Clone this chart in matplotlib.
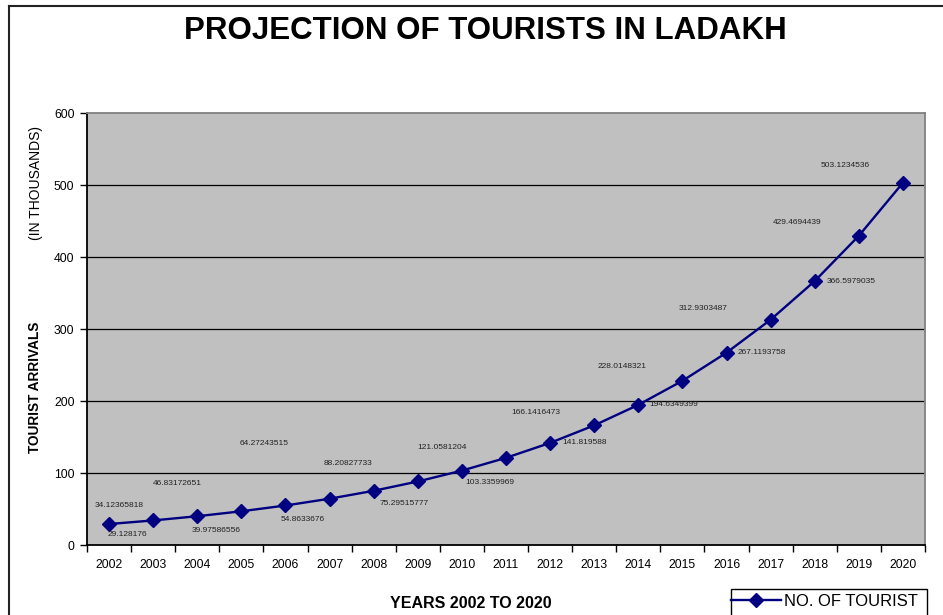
import numpy as np
import matplotlib.pyplot as plt
from matplotlib.lines import Line2D
from matplotlib.patches import Rectangle

plt.rcParams['font.family'] = ['Liberation Sans', 'DejaVu Sans']

# Projected tourist arrivals (thousands)
years = ['2002', '2003', '2004', '2005', '2006', '2007', '2008', '2009', '2010', '2011',
         '2012', '2013', '2014', '2015', '2016', '2017', '2018', '2019', '2020']
tourists = [29.128176, 34.12365818, 39.97586556, 46.83172651, 54.8633676, 64.27243515,
            75.29515777, 88.20827733, 103.3359969, 121.0581204, 141.819588, 166.1416473,
            194.6349399, 228.0148321, 267.1193758, 312.9303487, 366.5979035, 429.4694439,
            503.1234536]
yticks = [0, 100, 200, 300, 400, 500, 600]

# label offsets in pixels (dx, dy) relative to each point
label_offsets = [(18, -10), (-34, 15), (19, -14), (-64, 28), (17, -14), (-65, 55),
                 (30, -13), (-70, 18), (28, -12), (-64, 10), (34, 0), (-58, 13),
                 (35, 0), (-60, 14), (35, 0), (-68, 11), (36, 0), (-62, 13), (-58, 17)]

W, H = 943, 615
fig = plt.figure(figsize=(W / 100, H / 100), dpi=100)
ax = fig.add_axes([87 / W, 1 - 545 / H, (925 - 87) / W, (545 - 113) / H])
ax.set_facecolor('#C0C0C0')

x = np.arange(len(years))
ax.plot(x, tourists, color='#000080', lw=1.7, marker='D', ms=7.5,
        markerfacecolor='#000080', markeredgecolor='#000080', label='NO. OF TOURIST', zorder=3)

for xi, v, (dx, dy) in zip(x, tourists, label_offsets):
    ax.annotate(str(v), (xi, v), xytext=(dx, dy), textcoords='offset pixels',
                ha='center', va='center', fontsize=6, color='#222222')

ax.set_xlim(-0.5, len(years) - 0.5)
ax.set_ylim(0, 600)
ax.set_yticks(yticks)
ax.set_yticklabels([str(t) for t in yticks], fontsize=8.7)
ax.set_xticks(x)
ax.set_xticklabels(years, fontsize=8.7)
ax.set_xticks(np.arange(-0.5, len(years)), minor=True)
ax.tick_params(axis='x', which='major', length=0, pad=10)
ax.tick_params(axis='x', which='minor', length=5, width=1, direction='out')
ax.tick_params(axis='y', length=5, width=1, direction='out', pad=4)

for g in yticks[1:-1]:
    ax.axhline(g, color='black', lw=0.9, zorder=1)

ax.spines['left'].set_color('black')
ax.spines['bottom'].set_color('black')
ax.spines['top'].set_color('#808080')
ax.spines['right'].set_color('#808080')
for s in ax.spines.values():
    s.set_linewidth(1.3)

fig.text(485 / W, 1 - 31 / H, 'PROJECTION OF TOURISTS IN LADAKH', ha='center', va='center',
         fontsize=22.5, fontweight='bold')
fig.text(35 / W, 1 - 387 / H, 'TOURIST ARRIVALS', rotation=90, ha='center', va='center',
         fontsize=9.8, fontweight='bold')
fig.text(36 / W, 1 - 183 / H, '(IN THOUSANDS)', rotation=90, ha='center', va='center',
         fontsize=10)
fig.text(471 / W, 1 - 603 / H, 'YEARS 2002 TO 2020', ha='center', va='center',
         fontsize=11.5, fontweight='bold')

# legend without frame; the box runs past the bottom edge
leg = fig.legend(loc='upper left', bbox_to_anchor=(731 / W, 1 - 594 / H), fontsize=12,
                 frameon=False, borderpad=0, handlelength=3,
                 handletextpad=0.2, borderaxespad=0)
fig.add_artist(Rectangle((731 / W, -0.02), (927 - 731) / W, 0.02 + (615 - 589) / H,
                         transform=fig.transFigure, fill=False, edgecolor='black',
                         lw=1.0, clip_on=False))

# outer frame lines (top and left)
fig.add_artist(Line2D([9 / W, 1], [1 - 6 / H, 1 - 6 / H], color='#222222', lw=1.5))
fig.add_artist(Line2D([9 / W, 9 / W], [0, 1 - 6 / H], color='#222222', lw=1.5))

fig.savefig('out.png', dpi=100)
